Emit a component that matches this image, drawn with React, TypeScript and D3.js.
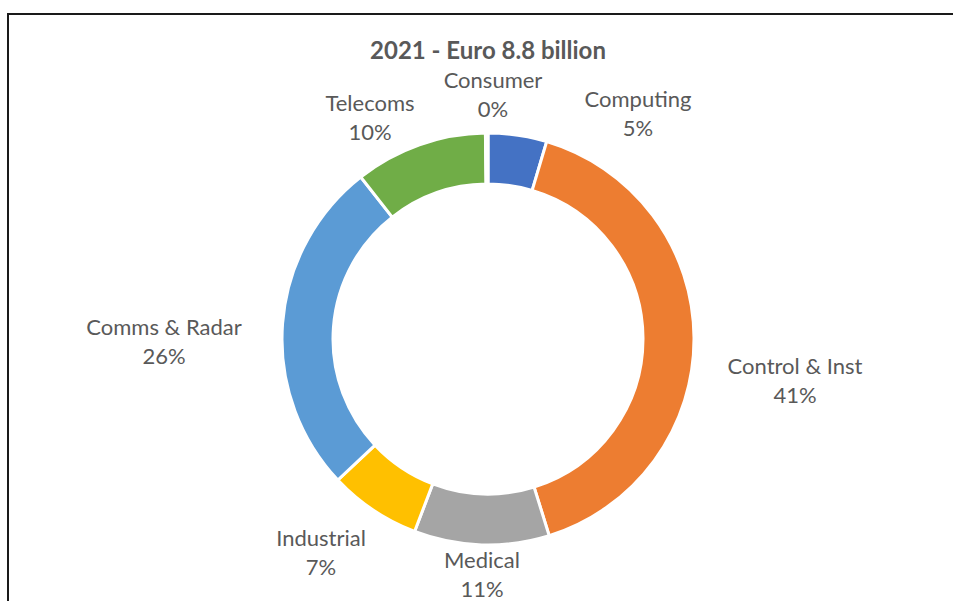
import React from "react";
import * as d3 from "d3";

const categories = ["Computing", "Control & Inst", "Medical", "Industrial", "Comms & Radar", "Telecoms", "Consumer"];
const values = [4.6, 40.6, 10.6, 7.2, 26.4, 10.4, 0.2];
const pctLabels = ["5%", "41%", "11%", "7%", "26%", "10%", "0%"];
const colors = ["#4472C4", "#ED7D31", "#A5A5A5", "#FFC000", "#5B9BD5", "#70AD47", "#264478"];
const title = "2021 - Euro 8.8 billion";

// label anchor placement (layout, relative to chart center)
const labelOffsets: [number, number][] = [
  [150, -226],
  [307, 41],
  [-6, 235],
  [-167, 213],
  [-324, 2],
  [-118, -222],
  [5, -245],
];

export default function App() {
  const W = 953, H = 601;
  const cx = 488, cy = 339;
  const R = 206, r = 155;
  const pie = d3.pie<number>().value((d) => d).sort(null);
  const arcs = pie(values);
  const arc = d3.arc<d3.PieArcDatum<number>>().innerRadius(r).outerRadius(R);
  const font = "Lato, 'Open Sans', sans-serif";
  return (
    <svg width={W} height={H} style={{ position: "absolute", left: 0, top: 0, background: "#fff" }}>
      <rect x={8} y={14} width={1200} height={1000} fill="none" stroke="#1a1a1a" strokeWidth={2} />
      <text x={cx} y={59} textAnchor="middle" fontFamily={font} fontWeight={700} fontSize={24} fill="#595959">
        {title}
      </text>
      <g transform={`translate(${cx},${cy})`}>
        {arcs.map((a, i) => (
          <path key={categories[i]} d={arc(a) || ""} fill={colors[i]} stroke="#fff" strokeWidth={3} />
        ))}
        {arcs.map((a, i) => {
          const [dx, dy] = labelOffsets[i];
          return (
            <text key={"l" + i} x={dx} y={dy} textAnchor="middle" fontFamily={font} fontSize={22} fill="#595959">
              <tspan x={dx} dy={-6}>{categories[i]}</tspan>
              <tspan x={dx} dy={29}>{pctLabels[i]}</tspan>
            </text>
          );
        })}
      </g>
    </svg>
  );
}
